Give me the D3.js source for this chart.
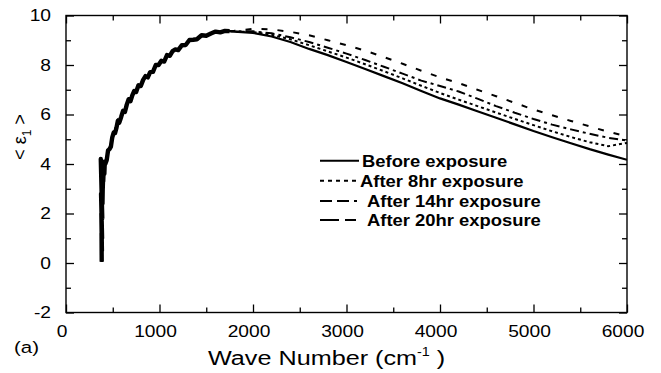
<!DOCTYPE html>
<html>
<head>
<meta charset="utf-8">
<script src="https://cdn.jsdelivr.net/npm/d3@7"></script>
<style>
  body { margin: 0; background: #fff; }
  svg { display: block; }
  text { font-family: "Liberation Sans", Arial, Helvetica, sans-serif; fill: #000; }
</style>
</head>
<body>
<svg width="661" height="373"></svg>
<script>
// noisy start, shared by all four runs (they lie on top of each other here)
var waveLow = [382, 380, 384, 378, 386, 375, 388, 372, 390, 395, 392, 400, 398, 405, 410, 415,
  420, 435, 450, 465, 480, 495, 510, 525, 540, 555, 570, 590, 610, 630, 650, 670, 690, 710, 730, 750,
  775, 800, 825, 850, 875, 900, 930, 960, 990, 1020, 1050, 1080, 1110, 1140, 1170, 1200, 1240, 1280,
  1320, 1360, 1400, 1450, 1500, 1550, 1600, 1650, 1700, 1750];
var epsLow = [0.05, 1.2, 0.5, 2.0, 1.0, 2.8, 1.8, 4.2, 2.4, 3.5, 2.9, 3.8, 3.3, 4.0, 3.6, 4.1,
  4.0, 4.15, 4.55, 4.6, 4.7, 5.08, 5.27, 5.25, 5.47, 5.75, 5.67, 5.9, 6.15, 6.1, 6.4, 6.62, 6.54, 6.78, 6.95, 6.91,
  7.18, 7.15, 7.4, 7.55, 7.5, 7.71, 7.72, 8.0, 8.0, 8.17, 8.14, 8.4, 8.37, 8.56, 8.63, 8.6, 8.8, 8.81,
  9.01, 9.02, 9.04, 9.2, 9.18, 9.27, 9.35, 9.32, 9.38, 9.37];

var waveHigh = [1800, 2000, 2200, 2400, 2600, 2800, 3000, 3200, 3400, 3600, 3800, 4000, 4200, 4400, 4600, 4800, 5000,
  5200, 5400, 5600, 5800, 6000];
var before = [9.35, 9.3, 9.15, 8.93, 8.65, 8.4, 8.12, 7.84, 7.55, 7.26, 6.95, 6.65, 6.4, 6.13, 5.87, 5.6, 5.33,
  5.08, 4.84, 4.6, 4.38, 4.17];
var after8 = [9.35, 9.33, 9.22, 9.04, 8.8, 8.55, 8.3, 8.03, 7.75, 7.46, 7.16, 6.87, 6.6, 6.34, 6.08, 5.82, 5.57,
  5.32, 5.09, 4.88, 4.72, 4.85];
var after14 = [9.36, 9.36, 9.28, 9.12, 8.93, 8.7, 8.46, 8.2, 7.93, 7.65, 7.37, 7.15, 6.93, 6.64, 6.34, 6.07, 5.82,
  5.59, 5.4, 5.22, 5.06, 4.95];
var after20 = [9.38, 9.46, 9.44, 9.34, 9.2, 9.0, 8.8, 8.58, 8.32, 8.05, 7.77, 7.5, 7.27, 7.0, 6.74, 6.47, 6.2,
  5.97, 5.74, 5.52, 5.3, 5.12];

var seriesNames = ["Before exposure", "After 8hr exposure", "After 14hr exposure", "After 20hr exposure"];
var xMajor = [0, 1000, 2000, 3000, 4000, 5000, 6000];
var xMinor = [500, 1500, 2500, 3500, 4500, 5500];
var yMajor = [-2, 0, 2, 4, 6, 8, 10];
var yMinor = [-1, 1, 3, 5, 7, 9];

var svg = d3.select("svg");
var mLeft = 66, mRight = 627, mTop = 15.5, mBottom = 312.5;
var sx = 1.2; // text in the figure is a bit wide

var x = d3.scaleLinear().domain([0, 6000]).range([mLeft, mRight]);
var y = d3.scaleLinear().domain([-2, 10]).range([mBottom, mTop]);

// build the runs
var runs = [before, after8, after14, after20].map(function (vals, i) {
  var pts = [];
  waveLow.forEach(function (w, j) { pts.push([w, epsLow[j]]); });
  waveHigh.forEach(function (w, j) { pts.push([w, vals[j]]); });
  return { name: seriesNames[i], pts: pts };
});
var plotDash = [null, "3,3", "9,4,3,4", "6,10"];
var legendDash = [null, "4,4", "12,5,12,5,3,5", "19,6,11,6"];

var line = d3.line().x(function (d) { return x(d[0]); }).y(function (d) { return y(d[1]); });

svg.append("clipPath").attr("id", "clip")
  .append("rect").attr("x", mLeft).attr("y", mTop).attr("width", mRight - mLeft).attr("height", mBottom - mTop);

var plot = svg.append("g").attr("clip-path", "url(#clip)");

// thick noisy band at the low wave numbers
plot.append("path")
  .datum(waveLow.map(function (w, j) { return [w, epsLow[j]]; }))
  .attr("d", line)
  .attr("fill", "none").attr("stroke", "#000").attr("stroke-width", 4.4)
  .attr("stroke-linejoin", "round");

runs.slice().reverse().forEach(function (r, k) {
  var i = runs.length - 1 - k;
  plot.append("path")
    .datum(r.pts)
    .attr("d", line)
    .attr("fill", "none")
    .attr("stroke", "#000")
    .attr("stroke-width", i == 0 ? 2.2 : 2)
    .attr("stroke-dasharray", plotDash[i]);
});

// frame
svg.append("rect")
  .attr("x", mLeft).attr("y", mTop).attr("width", mRight - mLeft).attr("height", mBottom - mTop)
  .attr("fill", "none").attr("stroke", "#000").attr("stroke-width", 1.4);

function ticks(axis, tr, vals, size) {
  var g = svg.append("g").attr("transform", tr)
    .call(axis.tickValues(vals).tickSizeInner(-size).tickSizeOuter(0).tickFormat(""));
  g.select(".domain").remove();
  g.selectAll("line").attr("stroke", "#000").attr("stroke-width", 1.3);
  return g;
}
ticks(d3.axisBottom(x), "translate(0," + mBottom + ")", xMajor, 8);
ticks(d3.axisBottom(x), "translate(0," + mBottom + ")", xMinor, 5);
ticks(d3.axisTop(x), "translate(0," + mTop + ")", xMajor, 8);
ticks(d3.axisTop(x), "translate(0," + mTop + ")", xMinor, 5);
ticks(d3.axisLeft(y), "translate(" + mLeft + ",0)", yMajor, 8);
ticks(d3.axisLeft(y), "translate(" + mLeft + ",0)", yMinor, 5);
ticks(d3.axisRight(y), "translate(" + mRight + ",0)", yMajor, 8);
ticks(d3.axisRight(y), "translate(" + mRight + ",0)", yMinor, 5);

// tick labels
svg.append("g").selectAll("text").data(xMajor).enter().append("text")
  .attr("transform", function (d) { return "translate(" + (x(d) - 4) + ",337) scale(" + sx + ",1)"; })
  .attr("text-anchor", "middle").attr("font-size", 16)
  .text(function (d) { return d; });

svg.append("g").selectAll("text").data(yMajor).enter().append("text")
  .attr("transform", function (d) { return "translate(51," + (y(d) + 5.6) + ") scale(" + sx + ",1)"; })
  .attr("text-anchor", "end").attr("font-size", 16)
  .text(function (d) { return String(d); });

// axis titles
var xt = svg.append("text")
  .attr("transform", "translate(208,365) scale(" + sx + ",1)")
  .attr("font-size", 21);
xt.append("tspan").text("Wave Number (cm");
xt.append("tspan").attr("font-size", 12).attr("dy", -9).text("-1");
xt.append("tspan").attr("dy", 9).text(" )");

var yt = svg.append("text")
  .attr("transform", "translate(26,137) rotate(-90)")
  .attr("text-anchor", "middle")
  .attr("font-size", 18);
yt.append("tspan").text("< \u03b5");
yt.append("tspan").attr("font-size", 12).attr("dy", 5).text("1");
yt.append("tspan").attr("dy", -5).text(" >");

svg.append("text")
  .attr("transform", "translate(14,353) scale(" + sx + ",1)")
  .attr("font-size", 17)
  .text("(a)");

// legend
var legY = [160.7, 180.7, 201, 220];
var legTextX = [362, 360, 367, 367];
var leg = svg.append("g");
seriesNames.forEach(function (name, i) {
  leg.append("line")
    .attr("x1", 320).attr("x2", 359)
    .attr("y1", legY[i]).attr("y2", legY[i])
    .attr("stroke", "#000").attr("stroke-width", 2)
    .attr("stroke-dasharray", legendDash[i]);
  leg.append("text")
    .attr("transform", "translate(" + legTextX[i] + "," + (legY[i] + 6) + ") scale(1.15,1)")
    .attr("font-size", 16).attr("font-weight", "bold")
    .text(name);
});
</script>
</body>
</html>
